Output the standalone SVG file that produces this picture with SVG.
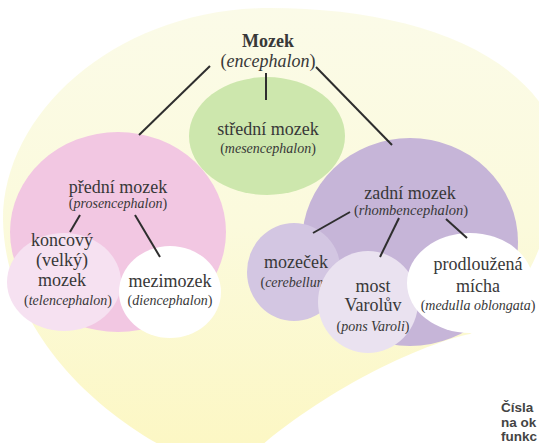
<svg xmlns="http://www.w3.org/2000/svg" width="539" height="443" viewBox="0 0 539 443">
<defs>
<linearGradient id="bg" x1="0" y1="0" x2="0" y2="1">
<stop offset="0" stop-color="#fbfbe8"/>
<stop offset="0.5" stop-color="#fbfadc"/>
<stop offset="1" stop-color="#fcf7c4"/>
</linearGradient>
<style>
.t{font-size:18px;fill:#383838;text-anchor:middle}
.s{font-size:14px;fill:#383838;text-anchor:middle}
.i{font-style:italic}
.b{font-weight:bold}
.c{stroke:#2e2e2e;stroke-width:2;fill:none}
.n{font-size:13.5px;font-weight:bold;fill:#444}
</style>
</defs>
<rect width="539" height="443" fill="#ffffff"/>
<path d="M270,8 C390,8 500,40 545,110 C565,170 555,280 470,334 C430,342 340,380 262,445 L160,445 C80,400 5,320 3,220 C3,110 120,8 270,8 Z" fill="url(#bg)"/>

<g font-family="Liberation Serif, DejaVu Serif, serif">
<g id="mozek">
<text class="t b" x="268" y="47">Mozek</text>
<text class="t" x="268" y="67">(<tspan class="i">encephalon</tspan>)</text>
</g>

<g id="stredni">
<ellipse cx="267" cy="136" rx="78" ry="59" fill="#cde7ad"/>
<text class="t" x="268" y="135">střední mozek</text>
<text class="s" x="268" y="153">(<tspan class="i">mesencephalon</tspan>)</text>
</g>

<g id="predni">
<ellipse cx="118" cy="232" rx="108" ry="100" fill="#f2c7e2"/>
<text class="t" x="118" y="193">přední mozek</text>
<text class="s" x="118" y="208">(<tspan class="i">prosencephalon</tspan>)</text>
</g>

<g id="koncovy">
<ellipse cx="64" cy="282" rx="57" ry="49" fill="#f6e1f1"/>
<text class="t" x="62" y="246">koncový</text>
<text class="t" x="62" y="266">(velký)</text>
<text class="t" x="62" y="286">mozek</text>
<text class="s" x="68" y="305">(<tspan class="i">telencephalon</tspan>)</text>
</g>

<g id="mezimozek">
<ellipse cx="170" cy="292" rx="51" ry="46" fill="#ffffff"/>
<text class="t" x="170" y="287">mezimozek</text>
<text class="s" x="170" y="305">(<tspan class="i">diencephalon</tspan>)</text>
</g>

<g id="zadni">
<ellipse cx="410" cy="242" rx="108" ry="104" fill="#c6b5d8"/>
<text class="t" x="410" y="199">zadní mozek</text>
<text class="s" x="411" y="215" style="font-size:14.5px">(<tspan class="i">rhombencephalon</tspan>)</text>
</g>

<g id="mozecek">
<ellipse cx="294" cy="272" rx="47" ry="49" fill="#d3c6e2"/>
<text class="t" x="296" y="268">mozeček</text>
<text class="s" x="296" y="287">(<tspan class="i">cerebellum</tspan>)</text>
</g>

<g id="most">
<ellipse cx="368" cy="302" rx="50" ry="51" fill="#eae2f0"/>
<text class="t" x="373" y="292">most</text>
<text class="t" x="373" y="311">Varolův</text>
<text class="s" x="373" y="331">(<tspan class="i">pons Varoli</tspan>)</text>
</g>

<g id="prodlouzena">
<ellipse cx="470" cy="283" rx="63" ry="50" fill="#ffffff"/>
<text class="t" x="478" y="270">prodloužená</text>
<text class="t" x="478" y="292">mícha</text>
<text class="s" x="478" y="310">(<tspan class="i">medulla oblongata</tspan>)</text>
</g>
</g>

<g id="connectors">
<line class="c" x1="210" y1="66" x2="139" y2="135"/>
<line class="c" x1="266" y1="73" x2="266" y2="100"/>
<line class="c" x1="316" y1="67" x2="392" y2="145"/>
<line class="c" x1="80" y1="215" x2="70" y2="232"/>
<line class="c" x1="135" y1="215" x2="160" y2="257"/>
<line class="c" x1="350" y1="212" x2="313" y2="233"/>
<line class="c" x1="399" y1="218" x2="380" y2="257"/>
<line class="c" x1="446" y1="219" x2="467" y2="238"/>
</g>

<g id="note" font-family="Liberation Sans, Arial, sans-serif">
<text class="n" x="501" y="412">Čísla</text>
<text class="n" x="501" y="427">na ok</text>
<text class="n" x="501" y="441">funkc</text>
</g>
</svg>
